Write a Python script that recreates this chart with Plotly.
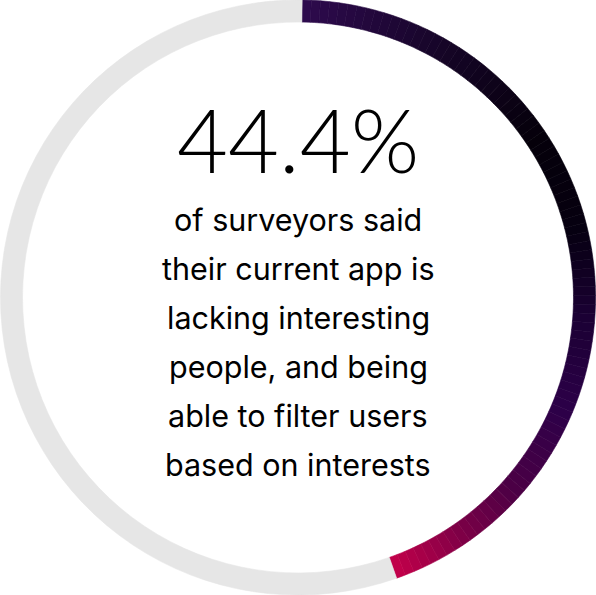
import plotly.graph_objects as go

# ---- data ----
categories = ["Lacking interesting people / filter by interests", "Other"]
values = [44.4, 55.6]
headline = "44.4%"
caption_lines = [
    "of surveyors said",
    "their current app is",
    "lacking interesting",
    "people, and being",
    "able to filter users",
    "based on interests",
]

# ---- style ----
rest_color = "#e6e6e6"
grad_stops = [  # (position along filled arc, colour)
    (0.00, (46, 10, 78)),
    (0.18, (22, 5, 40)),
    (0.35, (5, 0, 10)),
    (0.47, (6, 0, 16)),
    (0.58, (26, 0, 51)),
    (0.70, (44, 0, 72)),
    (0.82, (76, 0, 69)),
    (0.90, (122, 0, 70)),
    (1.00, (196, 0, 74)),
]
N_SEG = 90


def grad_color(t):
    for (p0, c0), (p1, c1) in zip(grad_stops[:-1], grad_stops[1:]):
        if p0 <= t <= p1:
            f = (t - p0) / (p1 - p0) if p1 > p0 else 0
            c = [round(a + (b - a) * f) for a, b in zip(c0, c1)]
            return "rgb(%d,%d,%d)" % tuple(c)
    c = grad_stops[-1][1]
    return "rgb(%d,%d,%d)" % c


# The filled share is drawn as many thin pieces purely to render a colour gradient.
seg_vals = [values[0] / N_SEG] * N_SEG
seg_cols = [grad_color((i + 0.5) / N_SEG) for i in range(N_SEG)]
pie_vals = seg_vals + [values[1]]
pie_cols = seg_cols + [rest_color]
pie_labels = [f"{categories[0]} {i}" for i in range(N_SEG)] + [categories[1]]

fig = go.Figure(
    go.Pie(
        values=pie_vals,
        labels=pie_labels,
        hole=0.926,
        sort=False,
        direction="clockwise",
        rotation=0.8,
        textinfo="none",
        hoverinfo="skip",
        showlegend=False,
        marker=dict(colors=pie_cols, line=dict(color=pie_cols, width=0.6)),
        domain=dict(x=[0, 1], y=[0, 1]),
    )
)

W, H = 596, 595


def py(v):
    return 1 - v / H


annotations = [
    dict(
        text=headline, x=0.5, y=py(138.5), xref="paper", yref="paper",
        xanchor="center", yanchor="middle", showarrow=False,
        font=dict(family="Lato, Open Sans, sans-serif", size=88, color="#000000", weight=300),
    )
]
line_y0 = 219
line_gap = 49
for i, line in enumerate(caption_lines):
    annotations.append(
        dict(
            text=line, x=0.5, y=py(line_y0 + i * line_gap), xref="paper", yref="paper",
            xanchor="center", yanchor="middle", showarrow=False,
            font=dict(family="Inter, Roboto, sans-serif", size=30.5, color="#000000"),
        )
    )

fig.update_layout(
    width=W, height=H,
    margin=dict(l=0, r=0, t=0, b=0),
    paper_bgcolor="white", plot_bgcolor="white",
    annotations=annotations,
)

fig.write_html("out.html")
